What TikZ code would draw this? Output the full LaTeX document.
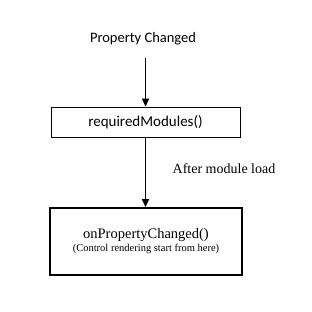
\documentclass[tikz,border=0pt]{standalone}
\usepackage{fontspec}
\setmainfont{Liberation Serif}
\newfontfamily\calibfont{Carlito}
\usepackage{tikz}
\usetikzlibrary{arrows.meta,positioning}

\begin{document}
\begin{tikzpicture}[x=1pt,y=1pt,
  ev/.style={font=\calibfont\fontsize{14.5}{16}\selectfont,inner xsep=2pt,inner ysep=13pt},
  fn/.style={rectangle,draw=black,line width=0.8pt,font=\calibfont\fontsize{15}{17}\selectfont,minimum width=189pt,minimum height=30pt,inner sep=0pt},
  hk/.style={rectangle,draw=black,line width=1.8pt,align=center,minimum width=192pt,minimum height=67pt,inner sep=0pt},
  arr/.style={-{Triangle[length=8pt,width=7pt]},draw=black,line width=1.5pt}]
\useasboundingbox (0,0) rectangle (311,312);
\node[ev] (prop) at (143,273) {Property Changed};
\node[fn] (req) at (145.5,190) {requiredModules()};
\node[hk] (opc) at (146,70.5) {\fontsize{14.5}{16}\selectfont onPropertyChanged()\\[1pt]
  \fontsize{10.5}{12}\selectfont(Control rendering start from here)};
\node[font=\fontsize{14}{16}\selectfont] (lbl) at (224,143) {After module load};
\draw[arr] (prop.south -| req) -- (req);
\draw[arr] (req) -- (opc.north -| req);
\end{tikzpicture}
\end{document}
